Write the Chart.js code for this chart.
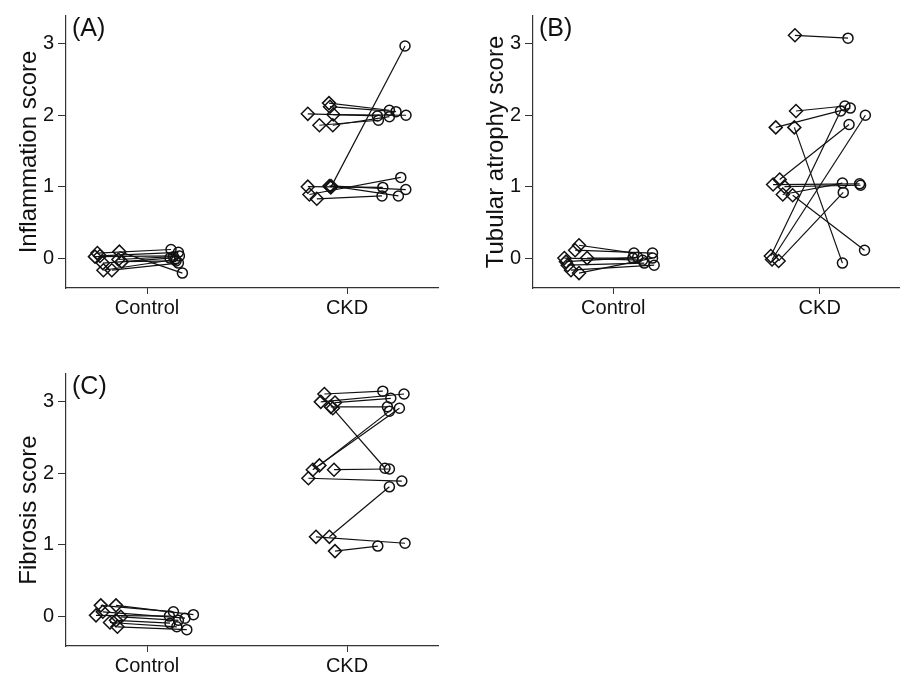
<!DOCTYPE html>
<html>
<head>
<meta charset="utf-8">
<script src="https://cdn.jsdelivr.net/npm/chart.js@4.4.1/dist/chart.umd.min.js"></script>
<style>
  html, body { margin: 0; padding: 0; background: #fff; overflow: hidden; }
  #wrap { position: relative; width: 907px; height: 673px; }
  canvas { position: absolute; }
</style>
</head>
<body>
<div id="wrap">
  <canvas id="panelA" width="460" height="340" style="left:0;top:0"></canvas>
  <canvas id="panelB" width="440" height="340" style="left:467px;top:0"></canvas>
  <canvas id="panelC" width="460" height="340" style="left:0;top:358px"></canvas>
</div>
<script>
// categories on the x axis (1 = Control, 2 = CKD)
const categories = ['Control', 'CKD'];
const yTicks = [0, 1, 2, 3];

// (A) Inflammation score: diamond = first sample, circle = paired sample
const aDiamondX = [0.752, 0.765, 0.740, 0.779, 0.782, 0.824, 0.862, 0.857, 0.874,
  1.804, 1.910, 1.915, 1.932, 1.862, 1.929, 1.804, 1.912, 1.919, 1.812, 1.849, 1.920];
const aDiamondY = [0.07, 0.03, 0.02, -0.07, -0.17, -0.17, 0.09, -0.02, -0.05,
  2.02, 2.17, 2.12, 2.01, 1.86, 1.86, 1.00, 1.01, 0.99, 0.89, 0.83, 1.01];
const aCircleX = [1.120, 1.157, 1.162, 1.115, 1.140, 1.157, 1.177, 1.132, 1.145,
  2.152, 2.212, 2.245, 2.295, 2.157, 2.212, 2.179, 2.294, 2.290, 2.269, 2.175, 2.257];
const aCircleY = [0.12, 0.08, 0.03, 0.00, -0.02, -0.07, -0.21, 0.02, -0.04,
  1.99, 2.07, 2.05, 2.00, 1.93, 1.98, 0.99, 0.96, 2.97, 1.13, 0.87, 0.87];

// (B) Tubular atrophy score
const bDiamondX = [0.834, 0.815, 0.873, 0.763, 0.779, 0.795, 0.834, 0.771,
  1.880, 1.885, 1.787, 1.877, 1.806, 1.774, 1.829, 1.821, 1.869, 1.763, 1.769, 1.801];
const bDiamondY = [0.18, 0.11, 0.00, 0.00, -0.10, -0.17, -0.21, -0.05,
  3.12, 2.06, 1.83, 1.83, 1.10, 1.03, 1.00, 0.89, 0.88, 0.03, -0.02, -0.04];
const bCircleX = [1.100, 1.190, 1.095, 1.142, 1.150, 1.198, 1.190, 1.118,
  2.137, 2.122, 2.148, 2.110, 2.142, 2.193, 2.198, 2.110, 2.217, 2.101, 2.221, 2.114];
const bCircleY = [0.07, 0.07, 0.00, -0.03, -0.07, -0.10, 0.00, 0.01,
  3.08, 2.13, 2.10, -0.07, 1.87, 1.04, 1.02, 1.05, 0.11, 2.06, 2.00, 0.92];

// (C) Fibrosis score
const cDiamondX = [0.769, 0.845, 0.745, 0.779, 0.815, 0.852, 0.869, 0.845,
  1.887, 1.869, 1.940, 1.929, 1.919, 1.862, 1.829, 1.935, 1.807, 1.912, 1.845, 1.940];
const cDiamondY = [0.15, 0.15, 0.01, 0.06, -0.09, -0.15, -0.01, -0.06,
  3.11, 3.00, 2.99, 2.91, 2.93, 2.11, 2.05, 2.05, 1.93, 1.11, 1.11, 0.91];
const cCircleX = [1.132, 1.232, 1.112, 1.190, 1.149, 1.199, 1.157, 1.115,
  2.179, 2.285, 2.219, 2.190, 2.202, 2.212, 2.262, 2.212, 2.274, 2.212, 2.290, 2.154];
const cCircleY = [0.06, 0.02, 0.00, -0.03, -0.15, -0.19, -0.06, -0.10,
  3.15, 3.11, 3.05, 2.07, 2.93, 2.87, 2.91, 2.06, 1.89, 1.81, 1.02, 0.98];

const FONT = "'Liberation Sans', Arial, sans-serif";
const INK = '#111';
const AXIS = '#333';

const panelLabel = {
  id: 'panelLabel',
  afterDraw(chart, args, opts) {
    const { ctx, chartArea } = chart;
    ctx.save();
    ctx.font = '25px ' + FONT;
    ctx.fillStyle = INK;
    ctx.textBaseline = 'top';
    ctx.fillText(opts.text, chartArea.left + 6, chartArea.top + 1);
    ctx.restore();
  }
};

function makePanel(id, label, yTitle, dx, dy, cx, cy, xMin, xMax, rightPad) {
  const datasets = [];
  for (let i = 0; i < dx.length; i++) {
    datasets.push({
      type: 'line',
      data: [{ x: dx[i], y: dy[i] }, { x: cx[i], y: cy[i] }],
      borderColor: INK,
      borderWidth: 1.2,
      pointRadius: 0,
      fill: false,
    });
  }
  datasets.push({
    type: 'scatter',
    data: dx.map((x, i) => ({ x, y: dy[i] })),
    pointStyle: 'rectRot',
    pointRadius: 6.5,
    borderColor: INK,
    borderWidth: 1.5,
    backgroundColor: 'rgba(0,0,0,0)',
  });
  datasets.push({
    type: 'scatter',
    data: cx.map((x, i) => ({ x, y: cy[i] })),
    pointStyle: 'circle',
    pointRadius: 5,
    borderColor: INK,
    borderWidth: 1.5,
    backgroundColor: 'rgba(0,0,0,0)',
  });

  return new Chart(document.getElementById(id), {
    type: 'scatter',
    data: { datasets },
    plugins: [panelLabel],
    options: {
      responsive: false,
      animation: false,
      layout: { padding: { top: 15, right: rightPad, left: 0, bottom: 0 } },
      plugins: {
        legend: { display: false },
        tooltip: { enabled: false },
        panelLabel: { text: label },
      },
      scales: {
        x: {
          type: 'linear',
          min: xMin,
          max: xMax,
          afterBuildTicks: (s) => { s.ticks = categories.map((c, i) => ({ value: i + 1 })); },
          afterFit: (s) => { s.height = 52; },
          grid: { drawOnChartArea: false, drawTicks: true, tickLength: 6, color: AXIS },
          border: { display: true, color: AXIS, width: 1.2 },
          ticks: {
            color: INK,
            font: { family: FONT, size: 20 },
            padding: 2,
            maxRotation: 0,
            callback: (v) => categories[Math.round(v) - 1],
          },
        },
        y: {
          min: -0.419,
          max: 3.39,
          afterBuildTicks: (s) => { s.ticks = yTicks.map(v => ({ value: v })); },
          afterFit: (s) => { s.width = 66; },
          grid: { drawOnChartArea: false, drawTicks: true, tickLength: 8, color: AXIS },
          border: { display: true, color: AXIS, width: 1.2 },
          ticks: {
            color: INK,
            font: { family: FONT, size: 20 },
            padding: 4,
          },
          title: {
            display: true,
            text: yTitle,
            color: INK,
            font: { family: FONT, size: 24 },
            padding: { top: 15, bottom: 0 },
          },
        },
      },
    },
  });
}

makePanel('panelA', '(A)', 'Inflammation score', aDiamondX, aDiamondY, aCircleX, aCircleY, 0.595, 2.455, 22);
makePanel('panelB', '(B)', 'Tubular atrophy score', bDiamondX, bDiamondY, bCircleX, bCircleY, 0.611, 2.384, 0);
makePanel('panelC', '(C)', 'Fibrosis score', cDiamondX, cDiamondY, cCircleX, cCircleY, 0.595, 2.455, 22);
</script>
</body>
</html>
